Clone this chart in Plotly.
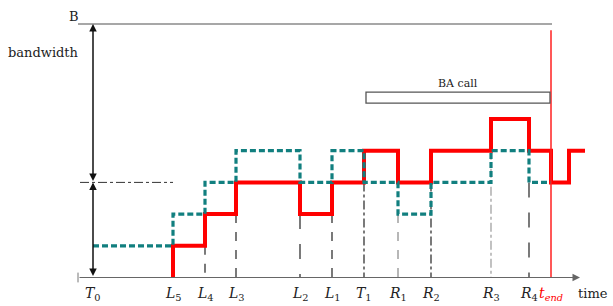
import plotly.graph_objects as go

# ---- data (time in arbitrary units, bandwidth in levels) ----
event_names = ["T0", "L5", "L4", "L3", "L2", "L1", "T1", "R1", "R2", "R3", "R4", "tend"]
event_times = [0, 80, 112, 143, 207, 239, 271, 305, 338, 398, 436, 458]
event_labels = ["<i>T</i><sub>0</sub>", "<i>L</i><sub>5</sub>", "<i>L</i><sub>4</sub>",
                "<i>L</i><sub>3</sub>", "<i>L</i><sub>2</sub>", "<i>L</i><sub>1</sub>",
                "<i>T</i><sub>1</sub>", "<i>R</i><sub>1</sub>", "<i>R</i><sub>2</sub>",
                "<i>R</i><sub>3</sub>", "<i>R</i><sub>4</sub>", "<i>t<sub>end</sub></i>"]

red_times = [80, 80, 112, 143, 207, 239, 271, 305, 338, 398, 436, 458, 476, 492]
red_levels = [0, 1, 2, 3, 2, 3, 4, 3, 4, 5, 4, 3, 4, 4]

teal_times = [0, 80, 112, 143, 207, 239, 271, 305, 338, 398, 436, 458]
teal_levels = [1, 2, 3, 4, 3, 4, 3, 2, 3, 4, 3, 3]

B_level = 8
mid_level = 3
axis_start = -15
axis_end = 487
ba_start, ba_end = 273, 457
ba_low, ba_high = 5.5, 5.85

# drop lines: (time, from level, dash, color)
drop_times = [112, 143, 207, 239, 271, 305, 338, 398, 436]
drop_levels = [1, 2, 2, 2, 3, 2, 3, 4, 3]
drop_dash = ["dash", "dash", "longdash", "dash", "dashdot", "dash", "dashdot", "dashdot", "longdash"]
drop_color = ["#222", "#222", "#222", "#222", "#222", "#888", "#222", "#999", "#222"]

SERIF = "DejaVu Serif"

fig = go.Figure()

# B line
fig.add_trace(go.Scatter(x=[axis_start, ba_end + 2], y=[B_level, B_level], mode="lines",
                         line=dict(color="#8a8a8a", width=1.5), hoverinfo="skip"))
# dash-dot reference at mid level
fig.add_trace(go.Scatter(x=[-13, 80], y=[mid_level, mid_level], mode="lines",
                         line=dict(color="#333", width=1, dash="dashdot"), hoverinfo="skip"))
# drop lines
for t, lv, d, c in zip(drop_times, drop_levels, drop_dash, drop_color):
    fig.add_trace(go.Scatter(x=[t, t], y=[lv, 0], mode="lines",
                             line=dict(color=c, width=1.2, dash=d), hoverinfo="skip"))
# red series
fig.add_trace(go.Scatter(x=red_times, y=red_levels, mode="lines", line_shape="hv",
                         line=dict(color="#ff0000", width=4), hoverinfo="skip"))
# teal series
fig.add_trace(go.Scatter(x=teal_times, y=teal_levels, mode="lines", line_shape="hv",
                         line=dict(color="#117f7f", width=3.2, dash="6px,3px"), hoverinfo="skip"))
# t_end red line
fig.add_trace(go.Scatter(x=[event_times[-1], event_times[-1]], y=[7.8, 0], mode="lines",
                         line=dict(color="#ff2020", width=1.5), hoverinfo="skip"))
# left tick on axis
fig.add_trace(go.Scatter(x=[axis_start], y=[0], mode="markers",
                         marker=dict(symbol="line-ns-open", size=7, color="#777",
                                     line=dict(width=1, color="#777")), hoverinfo="skip"))

# BA call box
fig.add_shape(type="rect", x0=ba_start, x1=ba_end, y0=ba_low, y1=ba_high,
              line=dict(color="#555", width=1.3), fillcolor="rgba(0,0,0,0)")
fig.add_annotation(x=(ba_start + ba_end) / 2, y=ba_high, yshift=9, text="BA call",
                   showarrow=False, font=dict(family=SERIF, size=11, color="#222"))

# time axis arrow
fig.add_annotation(x=axis_end, y=0, ax=axis_start, ay=0, axref="x", ayref="y", xref="x", yref="y",
                   text="", showarrow=True, arrowhead=2, arrowsize=1.5, arrowwidth=1,
                   arrowcolor="#666")
# bandwidth double arrows
fig.add_annotation(x=0, y=B_level, ax=0, ay=mid_level, axref="x", ayref="y",
                   text="", showarrow=True, arrowhead=2, arrowside="end+start",
                   arrowsize=1, arrowwidth=1.5, arrowcolor="#111")
fig.add_annotation(x=0, y=mid_level, ax=0, ay=0, axref="x", ayref="y",
                   text="", showarrow=True, arrowhead=2, arrowside="end+start",
                   arrowsize=1, arrowwidth=1.5, arrowcolor="#111")

# event labels
for t, lab in zip(event_times, event_labels):
    col = "#ff0000" if lab.startswith("<i>t") else "#222"
    fig.add_annotation(x=t, y=0, yshift=-16, text=lab, showarrow=False,
                       font=dict(family=SERIF, size=14, color=col))

fig.add_annotation(x=axis_end, y=0, xshift=-4, yshift=-16, text="time", showarrow=False,
                   xanchor="left", font=dict(family=SERIF, size=13, color="#222"))
fig.add_annotation(x=axis_start, y=B_level, xshift=-4, yshift=7, text="B", showarrow=False,
                   font=dict(family=SERIF, size=13, color="#222"))
fig.add_annotation(x=axis_start, y=7.1, xshift=3, text="bandwidth", showarrow=False,
                   xanchor="right", font=dict(family=SERIF, size=13, color="#222"))

fig.update_layout(width=613, height=306, margin=dict(l=0, r=0, t=0, b=0),
                  paper_bgcolor="white", plot_bgcolor="white", showlegend=False,
                  font=dict(family=SERIF),
                  xaxis=dict(range=[-93, 520], visible=False, fixedrange=True),
                  yaxis=dict(range=[-0.899, 8.754], visible=False, fixedrange=True))

fig.write_html("out.html")
